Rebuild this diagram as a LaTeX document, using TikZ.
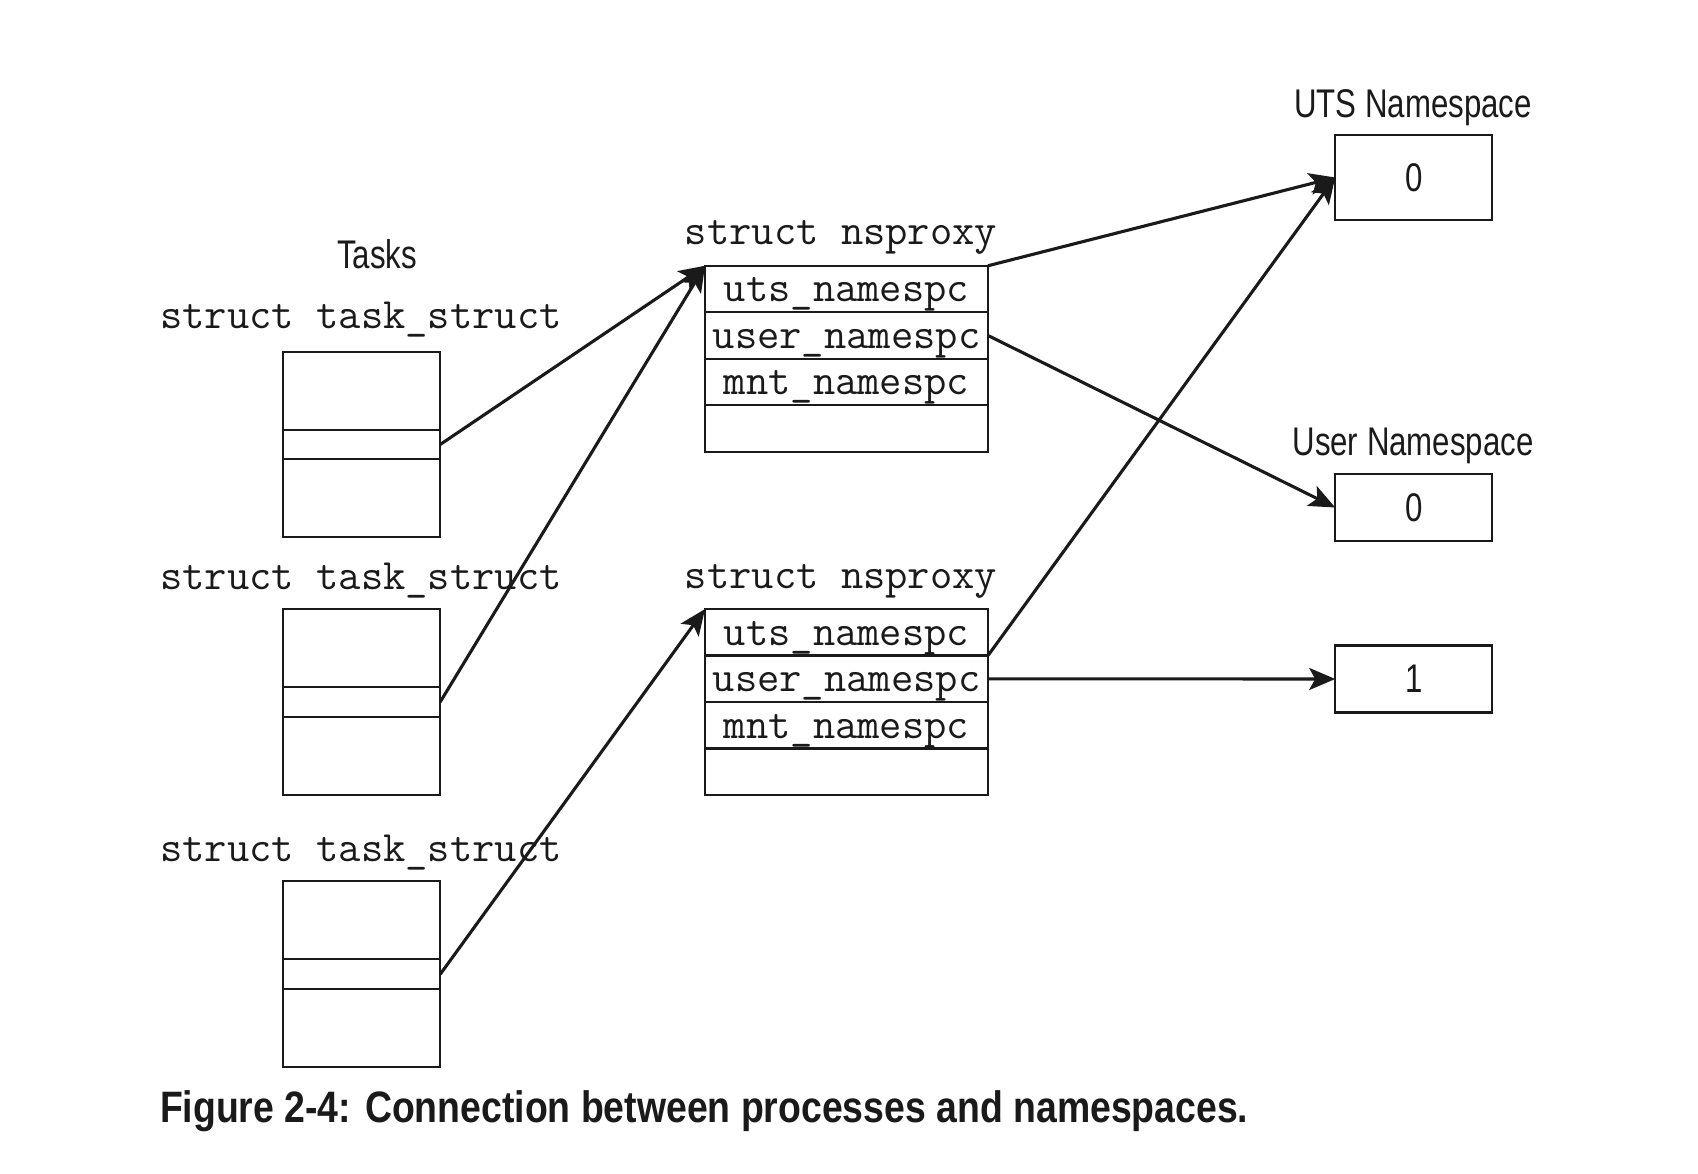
\documentclass[tikz,border=0pt]{standalone}
\usepackage{fontspec}
\usetikzlibrary{arrows.meta}
\newfontfamily\labelfont[FakeStretch=0.78]{Liberation Sans}
\newfontfamily\captionfont[FakeStretch=0.85]{Liberation Sans}
\definecolor{ink}{HTML}{1A1A1A}
\begin{document}
\begin{tikzpicture}[x=1pt,y=-1pt,
  every node/.style={inner sep=0pt,outer sep=0pt},
  frame/.style={draw=ink,line width=2.3pt},
  taskpart/.style={frame,minimum width=157pt},
  row/.style={frame,minimum width=283pt,minimum height=46.5pt,
    text height=26pt,text depth=0pt,
    font=\fontsize{43.3}{43.3}\ttfamily,text=ink},
  nsbox/.style={frame,minimum width=157pt,
    font=\fontsize{40}{40}\labelfont,text=ink},
  mono/.style={font=\fontsize{43.3}{43.3}\ttfamily,text=ink,anchor=base},
  title/.style={font=\fontsize{40}{40}\labelfont,text=ink,anchor=base},
  arr/.style={draw=ink,line width=3.1pt,
    -{Stealth[length=26pt,width=22pt,inset=6pt]}}
]
\useasboundingbox[fill=white] (0,0) rectangle (1698,1174);

% task_struct boxes: top part, pointer slot, bottom part
\node[taskpart,minimum height=29pt] (t1b) at (361.7,444.5) {};
\node[taskpart,minimum height=78pt,anchor=south] (t1a) at (t1b.north) {};
\node[taskpart,minimum height=78pt,anchor=north] (t1c) at (t1b.south) {};

\node[taskpart,minimum height=29.5pt] (t2b) at (361.7,702) {};
\node[taskpart,minimum height=78pt,anchor=south] (t2a) at (t2b.north) {};
\node[taskpart,minimum height=78pt,anchor=north] (t2c) at (t2b.south) {};

\node[taskpart,minimum height=30pt] (t3b) at (361.7,974.3) {};
\node[taskpart,minimum height=78pt,anchor=south] (t3a) at (t3b.north) {};
\node[taskpart,minimum height=78pt,anchor=north] (t3c) at (t3b.south) {};

\node[title] (tasks) at (377,269) {Tasks};
\node[mono] (lt1) at (361,329) {struct task\_struct};
\node[mono] (lt2) at (361,589.5) {struct task\_struct};
\node[mono] (lt3) at (361,861.5) {struct task\_struct};

% nsproxy structures
\node[row] (p1u) at (846.5,289) {uts\_namespc};
\node[row,anchor=north] (p1s) at (p1u.south) {user\_namespc};
\node[row,anchor=north] (p1m) at (p1s.south) {mnt\_namespc};
\node[row,anchor=north] (p1e) at (p1m.south) {};
\node[mono] (lp1) at (841,245) {struct nsproxy};

\node[row] (p2u) at (846.5,632.3) {uts\_namespc};
\node[row,anchor=north] (p2s) at (p2u.south) {user\_namespc};
\node[row,anchor=north] (p2m) at (p2s.south) {mnt\_namespc};
\node[row,anchor=north] (p2e) at (p2m.south) {};
\node[mono] (lp2) at (841,588) {struct nsproxy};

% namespace instances
\node[nsbox,minimum height=85pt] (uts) at (1413.7,177.5) {0};
\node[title] (luts) at (1413,118) {UTS Namespace};
\node[nsbox,minimum height=67pt] (usr) at (1413.7,507.5) {0};
\node[title] (lusr) at (1413,455) {User Namespace};
\node[nsbox,minimum height=67pt] (one) at (1413.7,679) {1};

% pointers
\draw[arr] (t1b.east) -- (p1u.north west);
\draw[arr] (t2b.east) -- (p1u.north west);
\draw[arr] (t3b.east) -- (p2u.north west);
\draw[arr] (p1u.north east) -- (uts.west);
\draw[arr] (p1s.east) -- (usr.west);
\draw[arr] (p2u.south east) -- (uts.west);
\draw[arr] (p2s.east) -- (one.west);

\node[anchor=base west,font=\fontsize{44}{44}\captionfont\bfseries,text=ink] (cap) at (160,1122)
  {Figure 2-4: Connection between processes and namespaces.};
\end{tikzpicture}
\end{document}
